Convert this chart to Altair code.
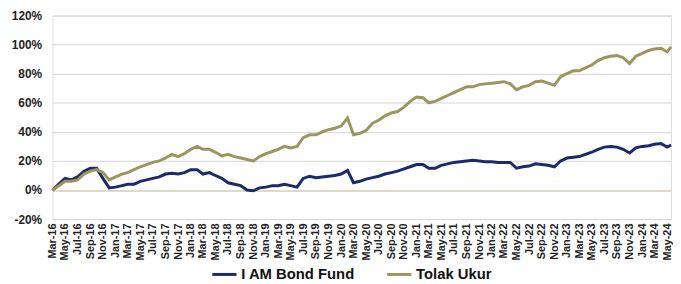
import altair as alt
import pandas as pd

months = pd.date_range("2016-03-01", "2024-05-01", freq="MS").strftime("%Y-%m-%d").tolist() + ["2024-05-20"]

bond = [0, 4, 8, 7, 9, 13, 15, 15, 8, 1.5,
        2, 3, 4, 4, 6, 7, 8, 9, 11, 11.5,
        11, 12, 14, 14, 11, 12, 10, 8, 5, 4,
        3, 0, -0.5, 1.5, 2, 3, 3, 4, 3, 2,
        8, 9.5, 8.5, 9, 9.5, 10, 11, 13.5, 5, 6,
        7.5, 8.5, 9.5, 11, 12, 13, 14.5, 16, 17.5, 17.5,
        15, 15, 17, 18, 19, 19.5, 20, 20.5, 20, 19.5,
        19.5, 19, 19, 19, 15, 16, 16.5, 18, 17.5, 17,
        16, 20, 22, 22.5, 23, 24.5, 26, 28, 29.5, 30,
        29.5, 28, 25.5, 29, 30, 30.5, 31.5, 32, 29.5, 31]

bench = [0, 3, 6, 6, 7, 11, 13, 14, 12, 7,
         9, 11, 12, 14, 16, 17.5, 19, 20, 22, 24.5,
         23, 25, 28, 30, 28, 28, 26, 23.5, 24.5, 23,
         22, 21, 20, 23, 25, 26.5, 28, 30, 29, 30,
         36, 38, 38, 40, 41.5, 42.5, 44, 49.5, 38, 39,
         41, 46, 48, 51, 53, 54, 57, 61, 64, 63.5,
         60, 61, 63, 65, 67, 69, 71, 71, 72.5, 73,
         73.5, 74, 74.5, 73, 69, 71, 72, 74.5, 75, 73.5,
         72, 78, 80, 82, 82, 84, 86, 89, 91, 92,
         92.5, 91, 87, 92, 94, 96, 97, 97.5, 95, 98.5]

series_names = ["I AM Bond Fund", "Tolak Ukur"]
colors = ["#1B2A6B", "#9C955F"]
y_ticks = [-20, 0, 20, 40, 60, 80, 100, 120]
x_ticks = pd.date_range("2016-03-01", "2024-05-01", freq="2MS").strftime("%Y-%m-%d").tolist()

df = pd.concat([
    pd.DataFrame({"date": months, "value": bond, "series": series_names[0]}),
    pd.DataFrame({"date": months, "value": bench, "series": series_names[1]}),
])

x_enc = alt.X("date:T",
              scale=alt.Scale(domain=["2016-03-01", "2024-05-20"]),
              axis=alt.Axis(values=x_ticks, format="%b-%y", labelAngle=-90,
                            labelFont="Liberation Sans", labelFontWeight="bold",
                            labelFontSize=11, labelColor="#222222", labelPadding=4,
                            ticks=False, domain=False, grid=False, title=None,
                            labelOverlap=False, labelBaseline="middle", labelAlign="right"))

grid_color = {"condition": {"test": "datum.value === 0", "value": "#D3CEB4"}, "value": "#D4D4D4"}
grid_width = {"condition": {"test": "datum.value === 0", "value": 1.6}, "value": 1}

chart = alt.Chart(df).mark_line(strokeWidth=3, interpolate="linear").encode(
    x=x_enc,
    y=alt.Y("value:Q", scale=alt.Scale(domain=[-20, 120], nice=False),
            axis=alt.Axis(values=y_ticks, labelExpr="datum.value + '%'",
                          labelFont="Liberation Sans", labelFontWeight="bold",
                          labelFontSize=12, labelColor="#222222", labelPadding=11,
                          labelOverlap=False, labelBound=False, labelFlush=False,
                          ticks=False, domain=False, grid=True, gridColor=grid_color,
                          gridWidth=grid_width, title=None)),
    color=alt.Color("series:N",
                    scale=alt.Scale(domain=series_names, range=colors),
                    legend=alt.Legend(title=None, orient="none", direction="horizontal",
                                      legendX=160, legendY=248,
                                      symbolType="stroke", symbolSize=600,
                                      symbolStrokeWidth=3, labelFont="Liberation Sans",
                                      labelFontWeight="bold", labelFontSize=15,
                                      labelColor="#111111", labelOffset=3,
                                      columnPadding=26)),
).properties(
    width=626, height=206,
    padding={"left": 45, "top": 6, "right": 2, "bottom": 62},
    autosize=alt.AutoSizeParams(type="none"),
).configure_view(stroke=None).configure(background="white")

chart.save("out.html", embed_options={"renderer": "svg", "actions": False})
